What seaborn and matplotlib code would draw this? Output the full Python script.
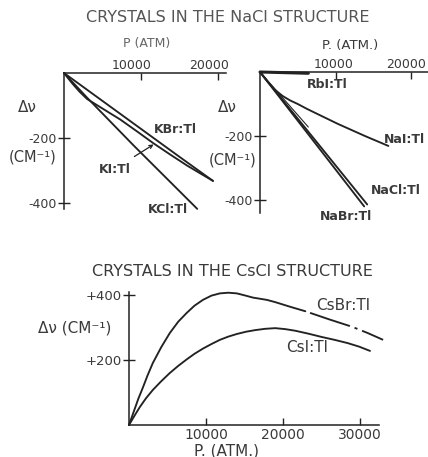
import numpy as np
import pandas as pd
import matplotlib
matplotlib.use("Agg")
import matplotlib.pyplot as plt
from matplotlib.transforms import ScaledTranslation
import seaborn as sns

# ---------------- data ----------------
# NaCl-structure crystals, left panel  (P in atm, shift in cm^-1)
kbr_p = [0, 5000, 10000, 15000, 19350]
kbr_dv = [0, -86, -172, -258, -332]
ki_p = [0, 1000, 2000, 3000, 4500, 6000, 7300, 9500, 11600, 13800, 16000, 17700, 19350]
ki_dv = [0, -30, -57, -80, -102, -124, -143, -180, -216, -251, -285, -309, -332]
kcl_p = [0, 3000, 9000, 17300]
kcl_dv = [0, -76, -222, -418]

# NaCl-structure crystals, right panel
rbi_p = [0, 6400]
rbi_dv = [0, -4]
nai_p = [0, 1000, 2000, 3000, 4000, 5000, 6200, 7500, 8900, 10300, 12100, 13900, 15500, 17000]
nai_dv = [0, -30, -56, -75, -89, -100, -115, -130, -146, -162, -181, -200, -216, -231]
extra_p = [0, 6400]
extra_dv = [0, -172]
nacl_p = [0, 14200]
nacl_dv = [0, -414]
nabr_p = [0, 13800]
nabr_dv = [0, -420]

# CsCl-structure crystals
csbr_p = [0, 600, 1200, 1800, 2400, 3100, 4200, 5300, 6400, 7500, 8500, 9600, 10700,
          11800, 12900, 14000, 15000, 16100, 17900, 19000, 20900, 22900, 26000, 29000, 31000, 33000]
csbr_dv = [0, 40, 80, 115, 152, 191, 240, 283, 318, 345, 367, 385, 398,
           405, 407, 405, 399, 392, 385, 378, 364, 350, 325, 302, 283, 262]
csbr_break = 22900
csi_p = [0, 700, 1400, 2200, 3100, 4200, 5300, 6400, 7500, 8500, 9600, 10700, 11800, 12900,
         14000, 15200, 16400, 17700, 19000, 20300, 21600, 23300, 25000, 26700, 28400, 29900, 31300]
csi_dv = [0, 28, 55, 82, 108, 135, 160, 182, 202, 219, 235, 249, 262, 272,
          280, 287, 292, 296, 298, 295, 290, 281, 271, 262, 252, 241, 228]

top_xticks = [10000, 20000]
top_xticklabels = ["10000", "20000"]
top_yticks = [-200, -400]
top_yticklabels = ["-200", "-400"]
bot_xticks = [10000, 20000, 30000]
bot_xticklabels = ["10000", "20000", "30000"]
bot_yticks = [200, 400]
bot_yticklabels = ["+200", "+400"]

# ---------------- style ----------------
sns.set_style("white")
plt.rcParams["font.family"] = ["DejaVu Sans"]
plt.rcParams["lines.scale_dashes"] = False

W, H = 428, 457
INK = "#222222"
TXT = "#3a3a3a"
LW = 1.35

fig = plt.figure(figsize=(W / 100, H / 100), dpi=100)
fig.patch.set_facecolor("white")


def px_axes(x0, y0, xscale, yscale, xlim, ylim):
    """x0,y0: pixel position (from top-left) of data point (0,0)."""
    left_px = x0 + xlim[0] * xscale
    width_px = (xlim[1] - xlim[0]) * xscale
    top_px = y0 - ylim[1] * yscale
    height_px = (ylim[1] - ylim[0]) * yscale
    ax = fig.add_axes([left_px / W, 1 - (top_px + height_px) / H, width_px / W, height_px / H])
    ax.set_xlim(*xlim)
    ax.set_ylim(*ylim)
    ax.set_facecolor("none")
    return ax


def T(x, y, s, size=9, ha="center", va="center", color=TXT, **kw):
    fig.text(x / W, 1 - y / H, s, fontsize=size, ha=ha, va=va, color=color, **kw)


def line(ax, p, dv, **kw):
    kw.setdefault("color", INK)
    kw.setdefault("linewidth", LW)
    sns.lineplot(x=p, y=dv, ax=ax, sort=False, estimator=None, clip_on=False, **kw)


def style_top(ax):
    for s in ["bottom", "right"]:
        ax.spines[s].set_visible(False)
    for s in ["top", "left"]:
        ax.spines[s].set_color(INK)
        ax.spines[s].set_linewidth(1.1)
    ax.xaxis.tick_top()
    ax.set_xticks(top_xticks)
    ax.set_xticklabels(top_xticklabels)
    ax.set_yticks(top_yticks)
    ax.set_yticklabels(top_yticklabels)
    ax.tick_params(axis="x", direction="in", length=5, width=1, color=INK,
                   top=True, bottom=False, labeltop=True, labelbottom=False,
                   pad=1, labelsize=9, labelcolor=TXT)
    ax.tick_params(axis="y", direction="inout", length=8, width=1, color=INK,
                   left=True, pad=1, labelsize=9, labelcolor=TXT)
    ax.set_xlabel("")
    ax.set_ylabel("")


def shift_labels(ax, shifts_px):
    for lab, dx in zip(ax.get_xticklabels(), shifts_px):
        lab.set_transform(lab.get_transform() + ScaledTranslation(dx / 100, 0, fig.dpi_scale_trans))


# ---------------- top-left panel ----------------
ax1 = px_axes(64, 73, 77 / 10000, 65 / 200, (0, 21000), (-420, 0))
style_top(ax1)
line(ax1, kbr_p, kbr_dv)
line(ax1, ki_p, ki_dv)
line(ax1, kcl_p, kcl_dv)
shift_labels(ax1, [-9, -9])

# ---------------- top-right panel ----------------
ax2 = px_axes(260, 72, 75.5 / 10000, 64 / 200, (0, 22200), (-440, 0))
style_top(ax2)
line(ax2, rbi_p, rbi_dv, linewidth=2.2)
line(ax2, nai_p, nai_dv)
line(ax2, extra_p, extra_dv, linewidth=0.8)
line(ax2, nacl_p, nacl_dv)
line(ax2, nabr_p, nabr_dv)
shift_labels(ax2, [-2, -5])

# ---------------- bottom panel ----------------
ax3 = px_axes(129, 425, 77 / 10000, 65 / 200, (0, 32500), (0, 410))
for s in ["top", "right"]:
    ax3.spines[s].set_visible(False)
for s in ["bottom", "left"]:
    ax3.spines[s].set_color(INK)
    ax3.spines[s].set_linewidth(1.1)
ax3.set_xticks(bot_xticks)
ax3.set_xticklabels(bot_xticklabels)
ax3.set_yticks(bot_yticks)
ax3.set_yticklabels(bot_yticklabels)
ax3.tick_params(axis="x", direction="in", length=5, width=1, color=INK,
                bottom=True, pad=2, labelsize=10, labelcolor=TXT)
ax3.tick_params(axis="y", direction="inout", length=8, width=1, color=INK,
                left=True, pad=1, labelsize=9.5, labelcolor=TXT)

csbr_p_arr = np.array(csbr_p)
csbr_dv_arr = np.array(csbr_dv)
solid = csbr_p_arr <= csbr_break
dashed = csbr_p_arr >= csbr_break
line(ax3, csbr_p_arr[solid], csbr_dv_arr[solid])
line(ax3, csbr_p_arr[dashed], csbr_dv_arr[dashed],
     linestyle=(36.0, (30.2, 3.6, 2.2, 3.6)))
line(ax3, csi_p, csi_dv)
ax3.set_xlabel("")
ax3.set_ylabel("")

# ---------------- texts ----------------
T(228, 17, "CRYSTALS IN THE NaCl STRUCTURE", size=11.5, color="#555555")
T(147, 43, "P (ATM)", size=9, color="#666666")
T(350, 45, "P. (ATM.)", size=9.5)

T(27, 108, "Δν", size=11)
T(33, 157, "(CM⁻¹)", size=10.5)
T(227, 107, "Δν", size=11)
T(233, 160, "(CM⁻¹)", size=10.5)

T(175, 130, "KBr:Tl", size=9, weight="bold")
T(115, 170, "KI:Tl", size=9, weight="bold")
T(168, 210, "KCl:Tl", size=9, weight="bold")
fig.add_artist(matplotlib.patches.FancyArrowPatch(
    posA=(132 / W, 1 - 158 / H), posB=(156 / W, 1 - 143 / H),
    transform=fig.transFigure, arrowstyle="->", mutation_scale=6,
    color=INK, linewidth=0.9))

T(327, 85, "RbI:Tl", size=9, weight="bold")
T(404, 139, "NaI:Tl", size=9, weight="bold")
T(396, 190, "NaCl:Tl", size=9, weight="bold")
T(346, 216, "NaBr:Tl", size=9, weight="bold")

T(232, 272, "CRYSTALS IN THE CsCl STRUCTURE", size=11.5)
T(75, 328, "Δν (CM⁻¹)", size=11)
T(343, 306, "CsBr:Tl", size=11)
T(307, 347, "CsI:Tl", size=11)
T(226, 451, "P. (ATM.)", size=11)

fig.savefig("out.png", dpi=100, facecolor="white")
